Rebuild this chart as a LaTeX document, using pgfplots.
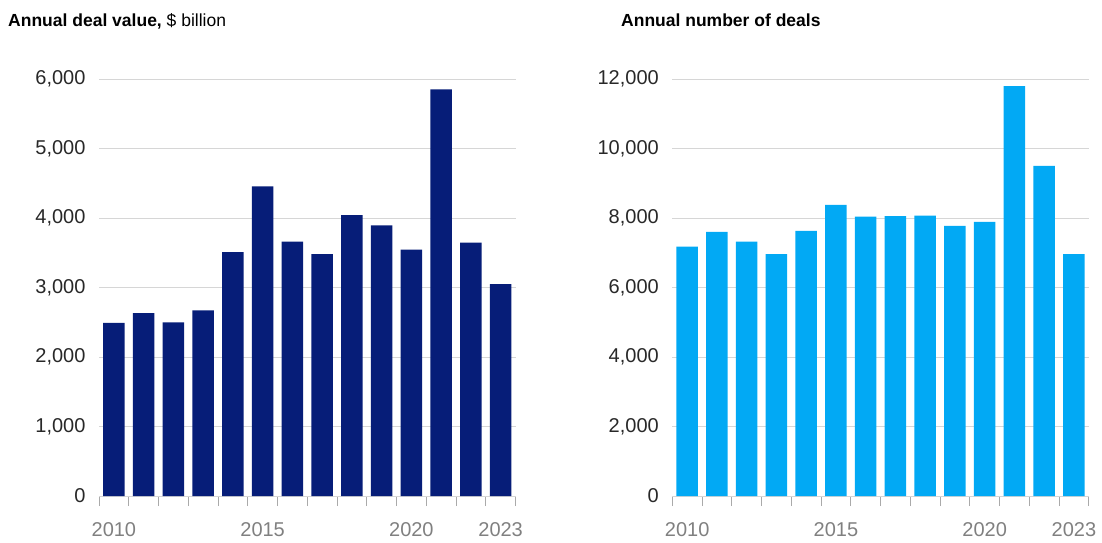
\documentclass[border=0pt]{standalone}
\usepackage{pgfplots}
\pgfplotsset{compat=1.18}
\usepackage{fontspec}
\setmainfont{Liberation Sans}
\definecolor{navy}{RGB}{6,29,120}
\definecolor{cyanbar}{RGB}{2,169,244}
\definecolor{gridc}{RGB}{214,214,214}
\definecolor{tickc}{RGB}{170,170,170}
\definecolor{xlab}{RGB}{128,128,128}
\definecolor{ylab}{RGB}{40,40,40}
\pgfplotstableread{
x val
0 2490
1 2630
2 2500
3 2672
4 3510
5 4454
6 3660
7 3481
8 4042
9 3894
10 3544
11 5852
12 3645
13 3050
}\dealvalue
\pgfplotstableread{
x val
0 7174
1 7604
2 7317
3 6964
4 7633
5 8379
6 8043
7 8054
8 8072
9 7776
10 7891
11 11793
12 9498
13 6964
}\dealcount
\pgfplotsset{
  mystyle/.style={
    scale only axis,
    width=416.5bp,
    height=417bp,
    anchor=south west,
    xmin=-0.5, xmax=13.5,
    ymin=0,
    axis x line=bottom,
    axis y line=left,
    y axis line style={draw=none},
    x axis line style={-, color=gridc, line width=1bp},
    xtick={-0.5,0.5,...,13.5},
    xticklabels={},
    tick align=outside,
    major tick length=10bp,
    xtick style={color=tickc, line width=1bp},
    ytick style={draw=none},
    extra x ticks={0,5,10,13},
    extra x tick labels={2010,2015,2020,2023},
    extra x tick style={major tick length=0bp, tick style={draw=none},
      xticklabel style={yshift=-23bp, text=xlab}},
    ymajorgrids,
    grid style={color=gridc, line width=0.8bp},
    tick label style={font=\fontsize{20bp}{24bp}\selectfont},
    yticklabel style={text=ylab},
    /pgf/number format/assume math mode=true,
    /pgf/number format/1000 sep={,},
    scaled y ticks=false,
    ybar,
    bar width=0.72,
    clip=false,
  }
}
\begin{document}
\begin{tikzpicture}[x=1bp,y=1bp]
\path[use as bounding box] (0,0) rectangle (1102,-543);
\node[anchor=base west, inner sep=0pt] at (8,-26.7)
  {\fontsize{17.5bp}{21bp}\selectfont\textbf{Annual deal value,} \$ billion};
\node[anchor=base west, inner sep=0pt] at (621,-26.7)
  {\fontsize{17.5bp}{21bp}\selectfont\textbf{Annual number of deals}};
\begin{axis}[mystyle, at={(99bp,-496bp)}, ymax=6000, ytick={0,1000,...,6000}]
\addplot[fill=navy, draw=none] table[x=x,y=val]{\dealvalue};
\end{axis}
\begin{axis}[mystyle, at={(672.3bp,-496bp)}, ymax=12000, ytick={0,2000,...,12000}]
\addplot[fill=cyanbar, draw=none] table[x=x,y=val]{\dealcount};
\end{axis}
\end{tikzpicture}
\end{document}
